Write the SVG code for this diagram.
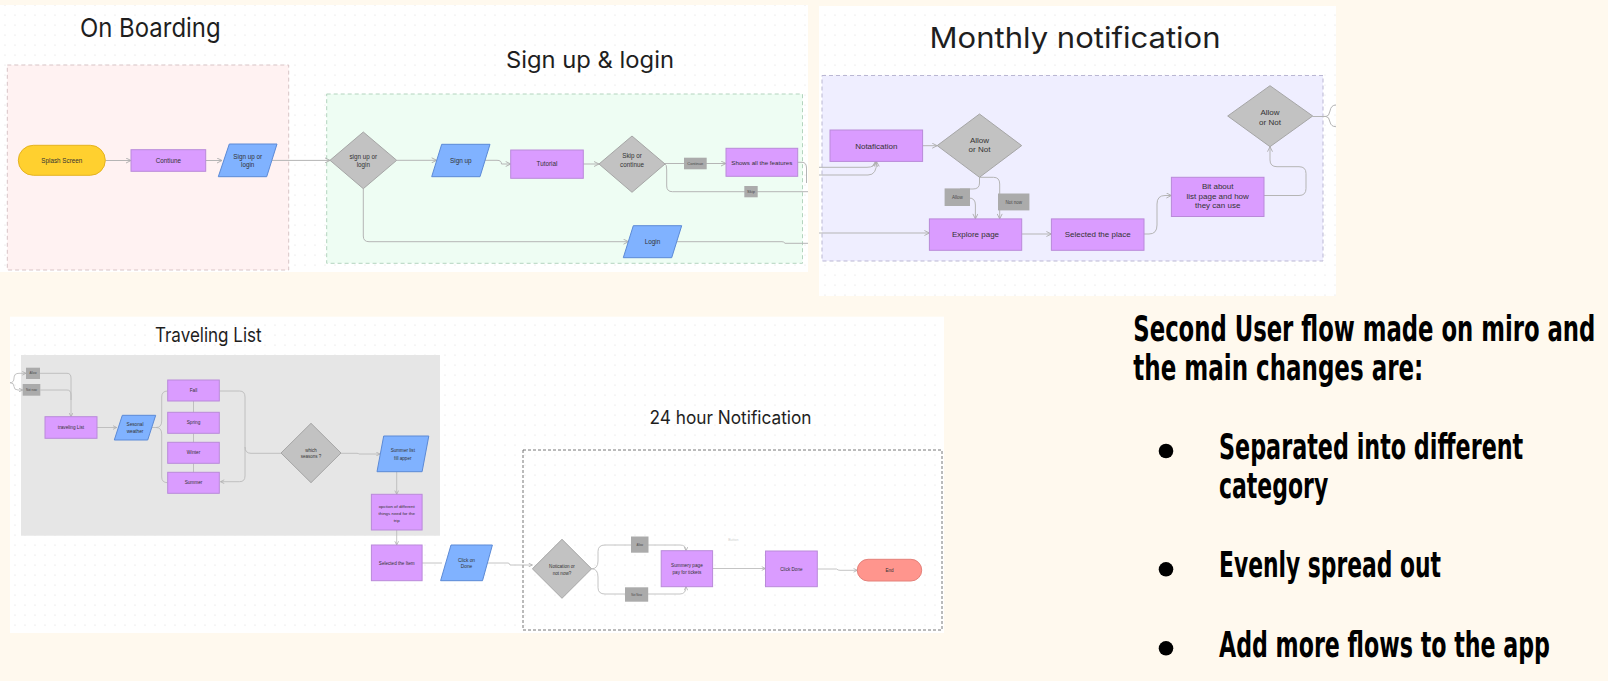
<svg xmlns="http://www.w3.org/2000/svg" width="1608" height="681" viewBox="0 0 1608 681">
<style>
.t{font-family:"Liberation Sans",Arial,sans-serif;fill:#333;text-anchor:middle}
.ttl{font-family:Inter,"Liberation Sans",sans-serif;fill:#1e1e1e;text-anchor:middle}
.big{font-family:"DejaVu Sans Condensed","DejaVu Sans",sans-serif;font-stretch:condensed;font-weight:bold;fill:#000;font-size:35px}
.pur{fill:#DA9CFF;stroke:#B98AD9;stroke-width:1}
.blu{fill:#80B2FF;stroke:#5C8AD6;stroke-width:1}
.dia{fill:#C2C2C2;stroke:#A6A6A6;stroke-width:1}
.lab{fill:#ABABAB}
.lt{font-family:"Liberation Sans",Arial,sans-serif;fill:#4a4a4a;text-anchor:middle}
.c{fill:none;stroke:#B5B5B5;stroke-width:1}
.ca{fill:none;stroke:#B5B5B5;stroke-width:1;marker-end:url(#ah)}
.cs{fill:none;stroke:#B5B5B5;stroke-width:0.8;marker-end:url(#ahs)}
.cs0{fill:none;stroke:#B5B5B5;stroke-width:0.8}
</style>
<defs>
<pattern id="dots" width="10" height="10" patternUnits="userSpaceOnUse"><circle cx="5" cy="5" r="0.6" fill="#dadada"/></pattern>
<marker id="ah" viewBox="0 0 6 6" refX="5.5" refY="3" markerWidth="6" markerHeight="6" markerUnits="userSpaceOnUse" orient="auto"><path d="M0.5,0.5 L5.5,3 L0.5,5.5" fill="none" stroke="#ababab" stroke-width="0.9"/></marker>
<marker id="ahs" viewBox="0 0 6 6" refX="5.5" refY="3" markerWidth="4.5" markerHeight="4.5" markerUnits="userSpaceOnUse" orient="auto"><path d="M0.5,0.5 L5.5,3 L0.5,5.5" fill="none" stroke="#ababab" stroke-width="1"/></marker>
</defs>
<rect x="0" y="0" width="1608" height="681" fill="#FFF9EE"/>

<g id="panels">
<rect x="0" y="5" width="808" height="267" fill="#ffffff"/>
<rect x="0" y="5" width="808" height="267" fill="url(#dots)"/>
<rect x="819" y="6" width="517" height="290" fill="#ffffff"/>
<rect x="819" y="6" width="517" height="290" fill="url(#dots)"/>
<rect x="10" y="316.7" width="934" height="316.3" fill="#ffffff"/>
<rect x="10" y="316.7" width="934" height="316.3" fill="url(#dots)"/>
<rect id="onboarding-frame" x="7.3" y="65" width="281.4" height="205" fill="#FFF2F2" stroke="#D8C4C6" stroke-width="1" stroke-dasharray="4 3"/>
<rect id="signup-frame" x="326.7" y="94" width="475.8" height="169.3" fill="#EEFDF3" stroke="#B3D4BE" stroke-width="1" stroke-dasharray="4 3"/>
<rect id="monthly-frame" x="822" y="75.5" width="501" height="185.5" fill="#EFEEFF" stroke="#BAB7D3" stroke-width="1" stroke-dasharray="4 3"/>
<rect id="travel-frame" x="21" y="355" width="419" height="180.7" fill="#E6E6E6"/>
<rect id="hour24-frame" x="523" y="450" width="419" height="180" fill="none" stroke="#777" stroke-width="1" stroke-dasharray="3 2"/>
</g>

<g id="titles">
<text class="ttl" x="150.3" y="37.3" font-size="26" textLength="140.7" lengthAdjust="spacingAndGlyphs">On Boarding</text>
<text class="ttl" x="590" y="67.7" font-size="23" textLength="168" lengthAdjust="spacingAndGlyphs">Sign up &amp; login</text>
<text class="ttl" x="1075" y="48.3" font-size="29" fill="#2e2e2e" textLength="291" lengthAdjust="spacingAndGlyphs">Monthly notification</text>
<text class="ttl" x="208.3" y="341.7" font-size="19.5" textLength="106.7" lengthAdjust="spacingAndGlyphs">Traveling List</text>
<text class="ttl" x="730.5" y="423.7" font-size="18" textLength="162" lengthAdjust="spacingAndGlyphs">24 hour Notification</text>
</g>

<g id="connectors">
<path class="ca" d="M105.3,160.5 H131"/>
<path class="ca" d="M205.7,160.5 H222"/>
<path class="ca" d="M272,160.4 H330"/>
<path class="ca" d="M396.7,160.3 H436.7"/>
<path class="ca" d="M485,160.3 H497 Q501.5,160.3 501.5,164 H510.7"/>
<path class="ca" d="M583.3,164 H599"/>
<path class="ca" d="M665,163.5 H726"/>
<path class="c" d="M665,164 Q666.7,164 666.7,170 V186 Q666.7,191.7 672.5,191.7 H808"/>
<path class="ca" d="M363.3,188.7 V236 Q363.3,241.7 369,241.7 H628.5"/>
<path class="c" d="M676.7,241.7 H782 Q784,241.7 785,243.3 H808"/>
<path class="c" d="M797.7,162.3 H802 Q806.5,162.3 806.5,168 V183"/>
<path class="ca" d="M819,167.3 H867 Q875,167.3 875.5,161.5"/>
<path class="ca" d="M819,175 H868 Q877,175 876.5,161.5"/>
<path class="ca" d="M922.6,145.7 H937.2"/>
<path class="c" d="M979.5,177.3 V183 Q979.5,189 973,189 H960 V198 H969"/>
<path class="ca" d="M969,198 Q975.4,198 975.4,205 V218.9"/>
<path class="ca" d="M979.5,177.3 H993.5 Q999.7,177.3 999.7,184 V218.9"/>
<path class="ca" d="M819,233 H929.4"/>
<path class="ca" d="M1021.7,234 H1051.4"/>
<path class="ca" d="M1144,234 H1149 Q1157,234 1157,225 V204 Q1157,195.5 1165,195.5 H1171.4"/>
<path class="ca" d="M1264,195.5 H1299 Q1306,195.5 1306,188.5 V173.5 Q1306,166.7 1299,166.7 H1277 Q1270,166.7 1270,160 V146.7"/>
<path class="c" d="M1312.7,116.5 H1326 Q1329,116.5 1330,111 Q1331,105 1336,105"/>
<path class="c" d="M1326,116.5 Q1329,116.5 1330,122 Q1331,126.7 1336,126.7"/>
<path class="cs" d="M10,382.7 Q14,382.7 14,378 Q14,373.3 19,373.3 H26"/>
<path class="cs" d="M10,382.7 Q14,382.7 14,386.5 Q14,390 18,390 H22.7"/>
<path class="cs0" d="M40,373.3 H67 Q71,373.3 71,378 V400"/>
<path class="cs" d="M40.3,390 H67 Q71,390 71,395 V416.7"/>
<path class="cs" d="M97,427.5 H116.7"/>
<path class="cs0" d="M151.7,427.5 H156 Q161.7,427.5 161.7,421 V397 Q161.7,391 167.7,391"/>
<path class="cs0" d="M156,427.5 Q161.7,427.5 161.7,434 V477 Q161.7,482.7 167.7,482.7"/>
<path class="cs0" d="M193.5,401 V412.3 M193.5,433.3 V442.3 M193.5,463.3 V472.3"/>
<path class="cs" d="M219.3,391 H239.5 Q245,391 245,397 V476 Q245,481.7 239.5,481.7 H220.5"/>
<path class="cs0" d="M245,447 Q245,453.3 251,453.3 H281"/>
<path class="cs" d="M341,453.3 H357 Q358.5,453.3 359,454 H380"/>
<path class="cs" d="M396.7,471.7 V494.3"/>
<path class="cs" d="M396.7,530 V545"/>
<path class="cs0" d="M422.1,563 H442"/>
<path class="cs" d="M487,563 H508 Q509.5,563 510,565 H532.4"/>
<path class="cs" d="M591.6,568.8 Q598,568.8 598,561 V551.5 Q598,545 605,545 H680 Q686,545 686,550.7"/>
<path class="cs" d="M591.6,568.8 Q598,568.8 598,577 V587.5 Q598,594 605,594 H680 Q686,594 686,586.7"/>
<path class="cs" d="M712.6,568.5 H765.5"/>
<path class="cs" d="M817.3,569 H836.5 Q838,570.3 840,570.3 H857.3"/>
</g>

<g id="n-splash"><rect x="18.3" y="145.3" width="87" height="30" rx="15" fill="#FFD02F" stroke="#E5B320" stroke-width="1"/><text class="t" x="61.8" y="162.5" font-size="6.3">Splash Screen</text></g>
<g id="n-continue"><rect class="pur" x="131" y="149.7" width="74.7" height="21.6"/><text class="t" x="168.3" y="162.7" font-size="6.3">Contiune</text></g>
<g id="n-signup-or-login"><polygon class="blu" points="229.3,144 277,144 266.7,176.7 218.3,176.7"/><text class="t" x="247.7" y="158.9" font-size="6.3">Sign up or</text><text class="t" x="247.7" y="167.2" font-size="6.3">login</text></g>
<g id="n-dec-signup"><polygon class="dia" points="363.3,132 396.7,160.3 363.3,188.7 330,160.3"/><text class="t" x="363.3" y="158.9" font-size="6.3">sign up or</text><text class="t" x="363.3" y="167.2" font-size="6.3">login</text></g>
<g id="n-signup"><polygon class="blu" points="441.7,144.3 490,144.3 480,176.7 431.7,176.7"/><text class="t" x="460.8" y="162.7" font-size="6.4">Sign up</text></g>
<g id="n-tutorial"><rect class="pur" x="510.7" y="150" width="72.6" height="28.3"/><text class="t" x="547" y="166.2" font-size="6.3">Tutorial</text></g>
<g id="n-skip"><polygon class="dia" points="632,136 665,164 632,192.3 599,164"/><text class="t" x="632" y="158.2" font-size="6.3">Skip or</text><text class="t" x="632" y="166.5" font-size="6.3">continue</text></g>
<g id="l-continue"><rect class="lab" x="684" y="157.7" width="22.7" height="11.6"/><text class="lt" x="695.3" y="164.9" font-size="4">Continue</text></g>
<g id="n-features"><rect class="pur" x="726" y="148.3" width="71.7" height="28"/><text class="t" x="761.8" y="164.5" font-size="6.2">Shows all the features</text></g>
<g id="l-skip"><rect class="lab" x="744.3" y="186" width="13.4" height="11.3"/><text class="lt" x="751" y="193.1" font-size="4">Skip</text></g>
<g id="n-login"><polygon class="blu" points="633.3,225.7 681.7,225.7 671.7,257.7 623.3,257.7"/><text class="t" x="652.5" y="243.9" font-size="6.4">Login</text></g>

<g id="n-notafication"><rect class="pur" x="830" y="130" width="92.6" height="31.4"/><text class="t" x="876.3" y="148.5" font-size="8">Notafication</text></g>
<g id="n-allow1"><polygon class="dia" points="979.5,114 1021.7,145.6 979.5,177.3 937.2,145.6"/><text class="t" x="979.5" y="142.8" font-size="8">Allow</text><text class="t" x="979.5" y="152.1" font-size="8">or Not</text></g>
<g id="l-allow1"><rect class="lab" x="944.6" y="188.4" width="25.4" height="17.6"/><text class="lt" x="957.3" y="198.8" font-size="4.5">Allow</text></g>
<g id="l-notnow1"><rect class="lab" x="998" y="193.5" width="31.4" height="16.9"/><text class="lt" x="1013.7" y="203.6" font-size="4.5">Not now</text></g>
<g id="n-explore"><rect class="pur" x="929.4" y="218.9" width="92.3" height="31.4"/><text class="t" x="975.5" y="237.4" font-size="8">Explore page</text></g>
<g id="n-selected-place"><rect class="pur" x="1051.4" y="218.9" width="92.6" height="31.4"/><text class="t" x="1097.7" y="237.4" font-size="8">Selected the place</text></g>
<g id="n-bit-about"><rect class="pur" x="1171.4" y="177.3" width="92.6" height="39.2"/><text class="t" x="1217.7" y="188.5" font-size="8">Bit about</text><text class="t" x="1217.7" y="198.5" font-size="8">list page and how</text><text class="t" x="1217.7" y="207.8" font-size="8">they can use</text></g>
<g id="n-allow2"><polygon class="dia" points="1270,85.7 1312.7,116 1270,146.7 1227.7,116"/><text class="t" x="1270" y="114.5" font-size="8">Allow</text><text class="t" x="1270" y="124.5" font-size="8">or Not</text></g>

<g id="l-allow2"><rect class="lab" x="26" y="367.7" width="14" height="11.3"/><text class="lt" x="33" y="374.4" font-size="3">Allow</text></g>
<g id="l-notnow2"><rect class="lab" x="22.7" y="384" width="17.6" height="11.7"/><text class="lt" x="31.5" y="391" font-size="3">Not now</text></g>
<g id="n-traveling"><rect class="pur" x="45" y="416.7" width="52" height="21.6"/><text class="t" x="71" y="429.1" font-size="4.7">traveling List</text></g>
<g id="n-seasonal"><polygon class="blu" points="122.3,415.3 155.7,415.3 147.7,440 114.3,440"/><text class="t" x="135" y="425.6" font-size="4.7">Sesonal</text><text class="t" x="135" y="432.9" font-size="4.7">weather</text></g>
<g id="n-fall"><rect class="pur" x="167.7" y="380" width="51.6" height="21"/><text class="t" x="193.5" y="392.1" font-size="4.7">Fall</text></g>
<g id="n-spring"><rect class="pur" x="167.7" y="412.3" width="51.6" height="21"/><text class="t" x="193.5" y="424.4" font-size="4.7">Spring</text></g>
<g id="n-winter"><rect class="pur" x="167.7" y="442.3" width="51.6" height="21"/><text class="t" x="193.5" y="454.4" font-size="4.7">Winter</text></g>
<g id="n-summer"><rect class="pur" x="167.7" y="472.3" width="51.6" height="21"/><text class="t" x="193.5" y="484.4" font-size="4.7">Summer</text></g>
<g id="n-which"><polygon class="dia" points="311,423.3 341,453 311,482.7 281,453"/><text class="t" x="311" y="451.6" font-size="4.5">which</text><text class="t" x="311" y="458.3" font-size="4.5">seasons ?</text></g>
<g id="n-summer-list"><polygon class="blu" points="383.7,436 428.8,436 422.1,471.7 377,471.7"/><text class="t" x="402.8" y="452.3" font-size="4.6">Summer list</text><text class="t" x="402.8" y="459.9" font-size="4.6">fill apper</text></g>
<g id="n-option"><rect class="pur" x="371.4" y="494.3" width="50.7" height="35.7"/><text class="t" x="396.7" y="508.3" font-size="4.4">opction of different</text><text class="t" x="396.7" y="514.9" font-size="4.4">things need for the</text><text class="t" x="396.7" y="521.6" font-size="4.4">trip</text></g>
<g id="n-selected-item"><rect class="pur" x="371.4" y="545" width="50.7" height="35.7"/><text class="t" x="396.7" y="564.6" font-size="4.6">Selected the Item</text></g>
<g id="n-click-on-done"><polygon class="blu" points="451,545 492.4,545 482.5,580.7 440.6,580.7"/><text class="t" x="466.5" y="561.6" font-size="4.8">Click on</text><text class="t" x="466.5" y="568.3" font-size="4.8">Done</text></g>

<g id="n-notication"><polygon class="dia" points="562,539.3 591.6,568.8 562,598.3 532.4,568.8"/><text class="t" x="562" y="567.6" font-size="4.6">Notication or</text><text class="t" x="562" y="574.9" font-size="4.6">not now?</text></g>
<g id="l-allow3"><rect class="lab" x="631" y="536.5" width="17.5" height="16.2"/><text class="lt" x="639.8" y="545.6" font-size="2.8">Allow</text></g>
<g id="l-notnow3"><rect class="lab" x="625" y="587.3" width="23.2" height="14.4"/><text class="lt" x="636.6" y="595.5" font-size="2.8">Not Now</text></g>
<g id="n-summery"><rect class="pur" x="661.2" y="550.7" width="51.4" height="36"/><text class="t" x="686.9" y="567.3" font-size="4.7">Summery page</text><text class="t" x="686.9" y="573.9" font-size="4.7">pay for tickets</text></g>
<text class="t" x="733.3" y="541" font-size="3.5" style="fill:#cfcfcf">Button</text>
<g id="n-click-done"><rect class="pur" x="765.5" y="551" width="51.8" height="35.7"/><text class="t" x="791.4" y="570.6" font-size="4.6">Click Done</text></g>
<g id="n-end"><rect x="857.3" y="559.3" width="64.4" height="21.7" rx="10.8" fill="#FF958D" stroke="#E4817A" stroke-width="1"/><text class="t" x="889.5" y="571.8" font-size="4.6">End</text></g>

<g id="notes">
<text class="big" transform="translate(1133.3 340.7) scale(0.75 1)" x="0" y="0" textLength="616" lengthAdjust="spacingAndGlyphs">Second User flow made on miro and</text>
<text class="big" transform="translate(1133.3 380) scale(0.75 1)" x="0" y="0" textLength="386.7" lengthAdjust="spacingAndGlyphs">the main changes are:</text>
<circle cx="1166" cy="451" r="7.3" fill="#000"/>
<text class="big" transform="translate(1219 459.3) scale(0.75 1)" x="0" y="0" textLength="405.7" lengthAdjust="spacingAndGlyphs">Separated into different</text>
<text class="big" transform="translate(1219 498.3) scale(0.75 1)" x="0" y="0" textLength="145.7" lengthAdjust="spacingAndGlyphs">category</text>
<circle cx="1166" cy="569.3" r="7.3" fill="#000"/>
<text class="big" transform="translate(1219 577.3) scale(0.75 1)" x="0" y="0" textLength="296" lengthAdjust="spacingAndGlyphs">Evenly spread out</text>
<circle cx="1166" cy="648.3" r="7.3" fill="#000"/>
<text class="big" transform="translate(1219 656.7) scale(0.75 1)" x="0" y="0" textLength="441.3" lengthAdjust="spacingAndGlyphs">Add more flows to the app</text>
</g>
</svg>
